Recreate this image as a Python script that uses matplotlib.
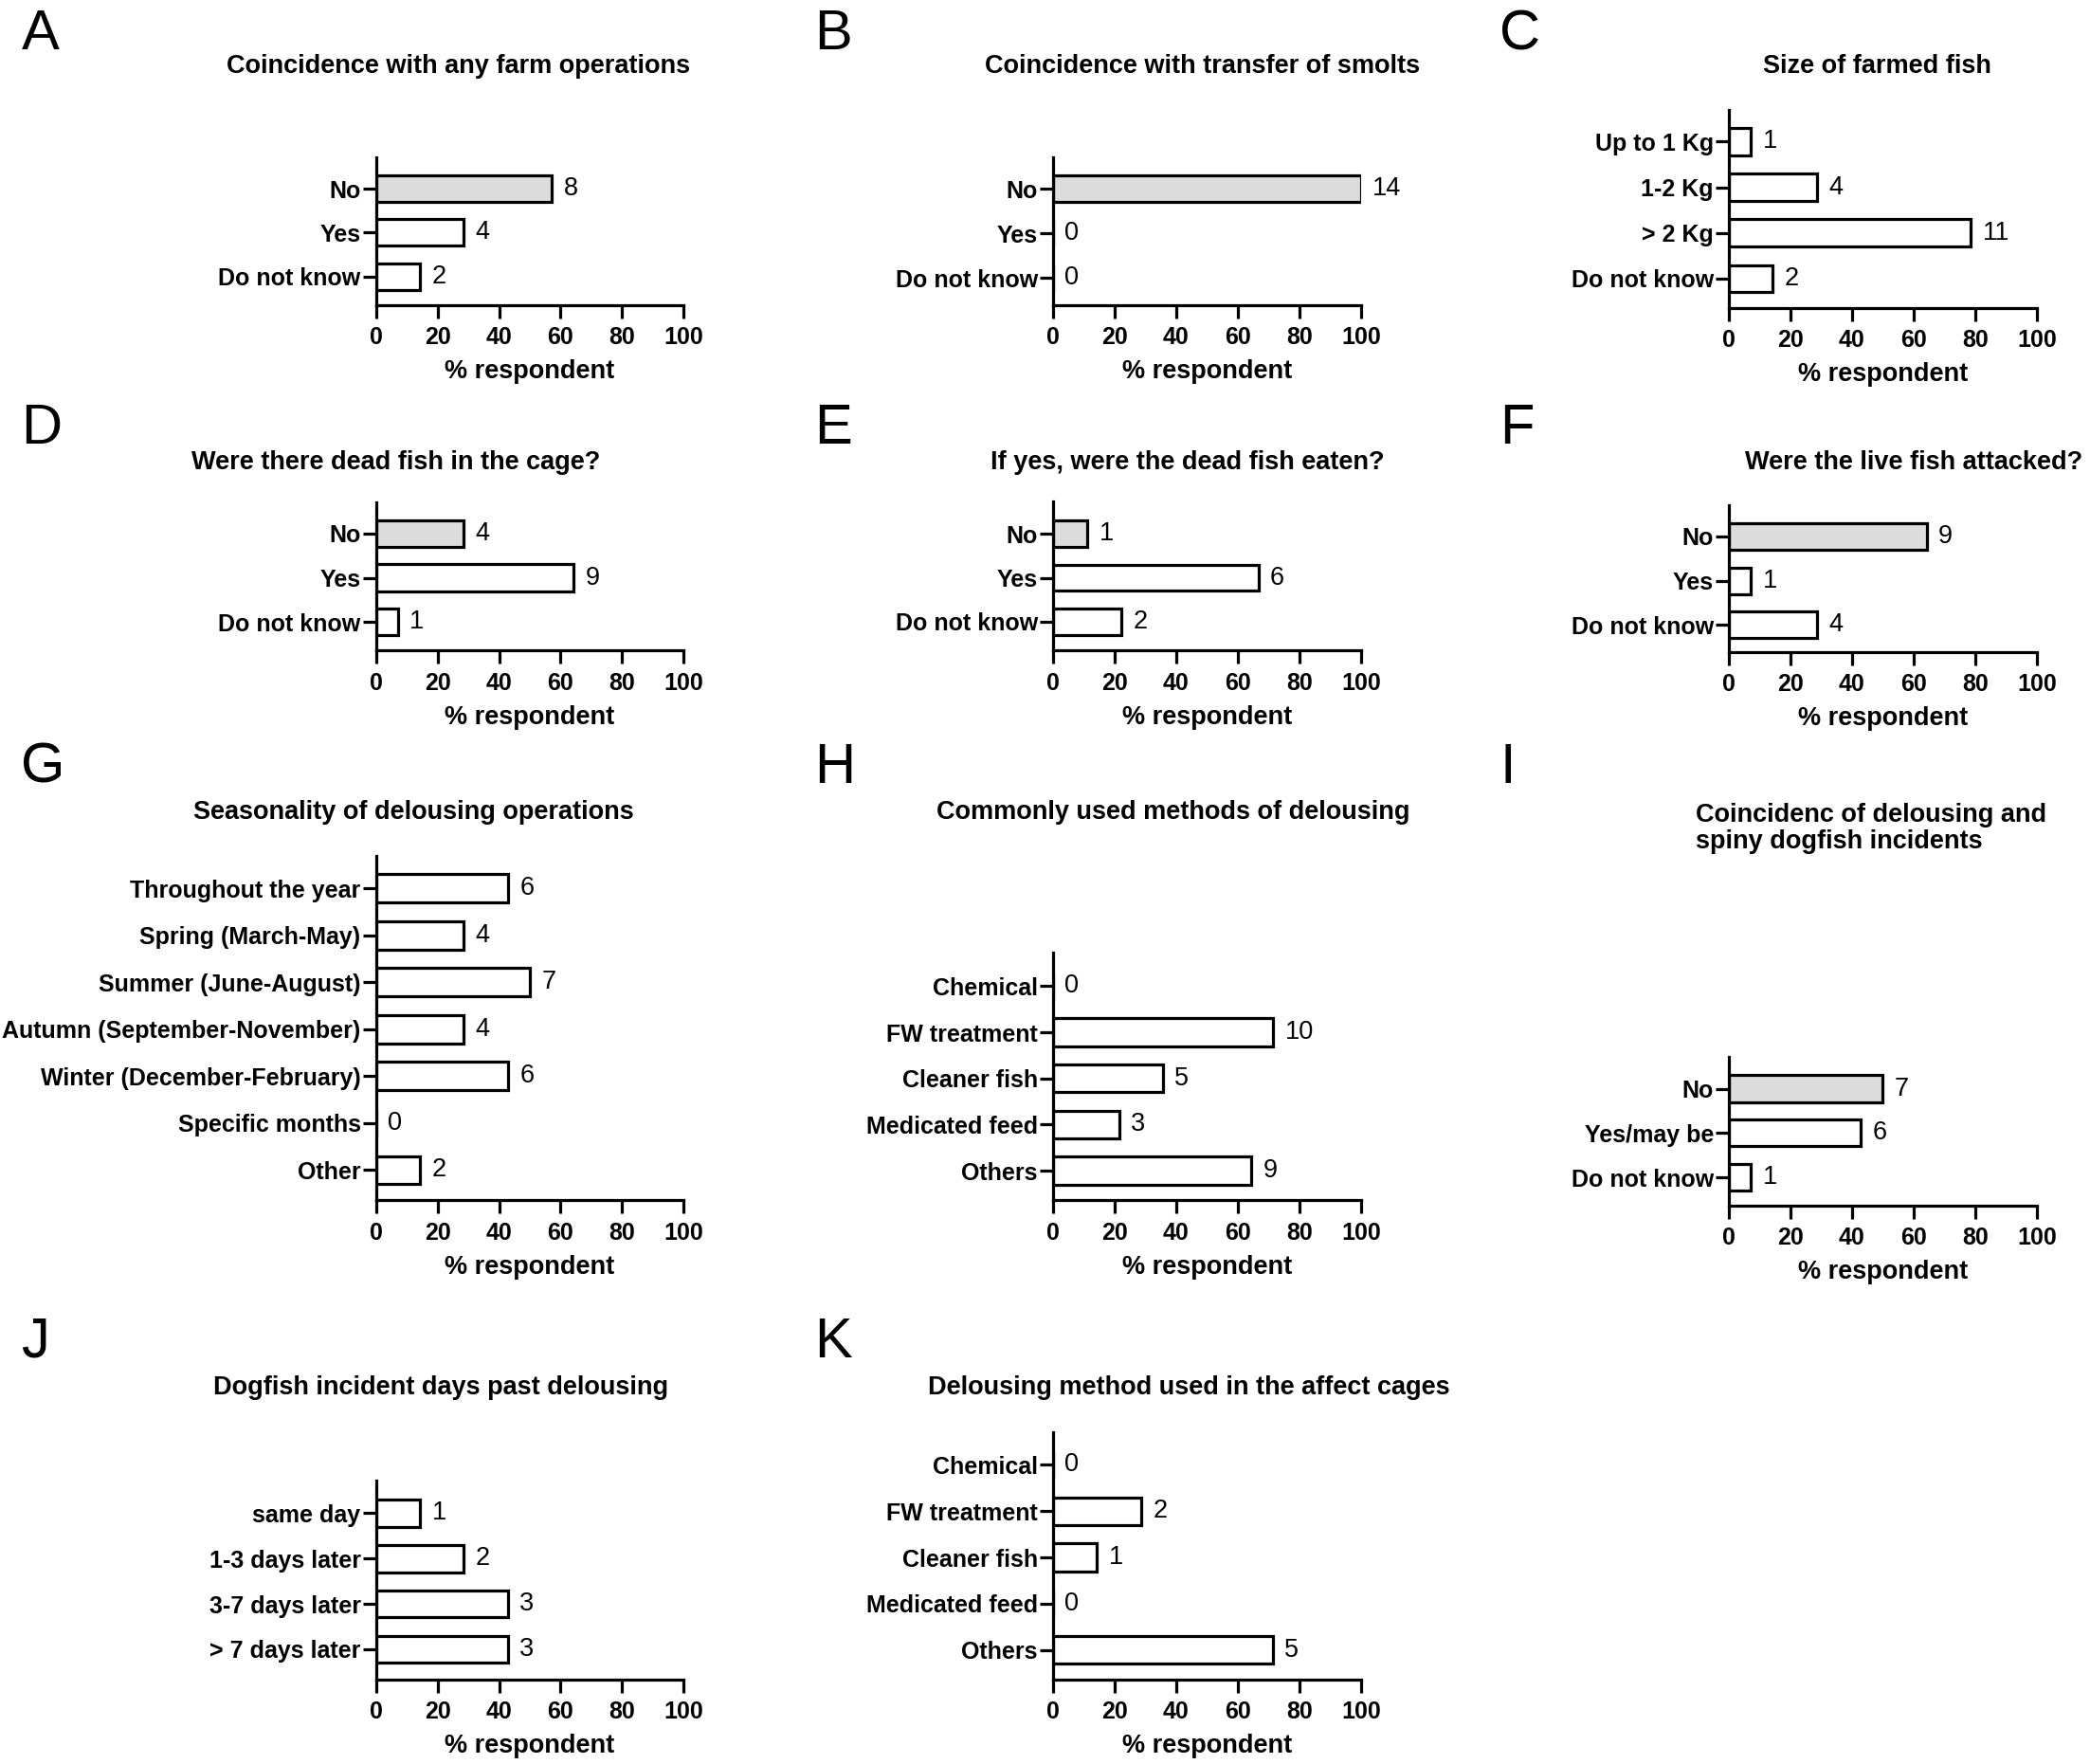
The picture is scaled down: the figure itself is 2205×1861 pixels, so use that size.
import matplotlib
matplotlib.use('Agg')
import matplotlib.pyplot as plt
import numpy as np

# Dados de cada painel (contagens de respostas e total de respondentes)
labels_a = ['No', 'Yes', 'Do not know']
counts_a = [8, 4, 2]
n_a = 14

labels_b = ['No', 'Yes', 'Do not know']
counts_b = [14, 0, 0]
n_b = 14

labels_c = ['Up to 1 Kg', '1-2 Kg', '> 2 Kg', 'Do not know']
counts_c = [1, 4, 11, 2]
n_c = 14

labels_d = ['No', 'Yes', 'Do not know']
counts_d = [4, 9, 1]
n_d = 14

labels_e = ['No', 'Yes', 'Do not know']
counts_e = [1, 6, 2]
n_e = 9

labels_f = ['No', 'Yes', 'Do not know']
counts_f = [9, 1, 4]
n_f = 14

labels_g = ['Throughout the year', 'Spring (March-May)', 'Summer (June-August)',
            'Autumn (September-November)', 'Winter (December-February)',
            'Specific months', 'Other']
counts_g = [6, 4, 7, 4, 6, 0, 2]
n_g = 14

labels_h = ['Chemical', 'FW treatment', 'Cleaner fish', 'Medicated feed', 'Others']
counts_h = [0, 10, 5, 3, 9]
n_h = 14

labels_i = ['No', 'Yes/may be', 'Do not know']
counts_i = [7, 6, 1]
n_i = 14

labels_j = ['same day', '1-3 days later', '3-7 days later', '> 7 days later']
counts_j = [1, 2, 3, 3]
n_j = 7

labels_k = ['Chemical', 'FW treatment', 'Cleaner fish', 'Medicated feed', 'Others']
counts_k = [0, 2, 1, 0, 5]
n_k = 7

titles = {
    'A': 'Coincidence with any farm operations',
    'B': 'Coincidence with transfer of smolts',
    'C': 'Size of farmed fish',
    'D': 'Were there dead fish in the cage?',
    'E': 'If yes, were the dead fish eaten?',
    'F': 'Were the live fish attacked?',
    'G': 'Seasonality of delousing operations',
    'H': 'Commonly used methods of delousing',
    'I': 'Coincidenc of delousing and\nspiny dogfish incidents',
    'J': 'Dogfish incident days past delousing',
    'K': 'Delousing method used in the affect cages',
}

# Layout em pixels da imagem de referencia (1568 x 1323)
W, H = 1568.0, 1323.0
AX_W = 231
# letra: x0, ytop, ybot, centro da 1a barra, centro da ultima, titulo (x, y), letra (x, y)
layout = {
    'A': (282, 118, 229, 141.5, 207.4, (344, 50), (16, 37)),
    'B': (790, 118, 229, 141.5, 208.6, (902, 50), (611, 37)),
    'C': (1297, 82.5, 230.7, 106.2, 209, (1408, 50), (1125, 37)),
    'D': (282, 377, 488, 400, 466.6, (297, 347), (16, 333)),
    'E': (790, 376.4, 488, 400.4, 466.3, (891, 347), (611, 333)),
    'F': (1297, 379, 489, 402.3, 468.7, (1436, 347), (1125, 333)),
    'G': (282, 641.8, 900.3, 666.2, 877.6, (310, 609), (16, 587)),
    'H': (790, 714.8, 900.3, 739.6, 878, (880, 609), (611, 587)),
    'I': (1297, 793, 904, 816.5, 883, (1272, 621), (1125, 587)),
    'J': (282, 1110.6, 1259.5, 1134.8, 1236.9, (331, 1041), (16, 1018)),
    'K': (790, 1074.3, 1259.5, 1098.7, 1237.4, (892, 1041), (611, 1018)),
}

data = {
    'A': (labels_a, counts_a, n_a), 'B': (labels_b, counts_b, n_b),
    'C': (labels_c, counts_c, n_c), 'D': (labels_d, counts_d, n_d),
    'E': (labels_e, counts_e, n_e), 'F': (labels_f, counts_f, n_f),
    'G': (labels_g, counts_g, n_g), 'H': (labels_h, counts_h, n_h),
    'I': (labels_i, counts_i, n_i), 'J': (labels_j, counts_j, n_j),
    'K': (labels_k, counts_k, n_k),
}

plt.rcParams['font.family'] = ['Liberation Sans', 'DejaVu Sans']

fig = plt.figure(figsize=(22.05, 18.61), dpi=100)

LW = 2.3
FS = 18          # rotulos dos eixos
FS_TITLE = 19.5  # titulos
FS_VAL = 19.5    # numeros ao lado das barras

for key, (labels, counts, n) in data.items():
    x0, ytop, ybot, yfirst, ylast, tpos, lpos = layout[key]
    ax = fig.add_axes([x0 / W, 1 - ybot / H, AX_W / W, (ybot - ytop) / H])

    pos = np.arange(len(labels))
    pct = np.array(counts) / n * 100
    # barra "No" em cinza
    colors = ['#dcdcdc' if lab == 'No' else 'white' for lab in labels]
    ax.barh(pos, pct, height=0.6, color=colors, edgecolor='black', linewidth=LW)

    # valores ao lado das barras
    for p, v, c in zip(pos, pct, counts):
        ax.annotate(str(c), (v, p), xytext=(9, 0), textcoords='offset points',
                    va='center', ha='left', fontsize=FS_VAL)

    sp = (ylast - yfirst) / (len(labels) - 1)
    ax.set_ylim((ybot - yfirst) / sp, -(yfirst - ytop) / sp)
    ax.set_xlim(0, 100)
    ax.set_xticks([0, 20, 40, 60, 80, 100])
    ax.set_yticks(pos)
    ax.set_yticklabels(labels, fontsize=FS, fontweight='bold')
    for t in ax.get_xticklabels():
        t.set_fontsize(FS)
        t.set_fontweight('bold')

    ax.spines['top'].set_visible(False)
    ax.spines['right'].set_visible(False)
    ax.spines['left'].set_linewidth(LW)
    ax.spines['bottom'].set_linewidth(LW)
    ax.tick_params(axis='y', length=10, width=LW, pad=1.5)
    ax.tick_params(axis='x', length=10, width=LW, pad=6)
    ax.set_xlabel('% respondent', fontsize=FS_TITLE, fontweight='bold', labelpad=8)

    # titulo e letra do painel
    if key == 'I':
        fig.text(tpos[0] / W, 1 - tpos[1] / H, titles[key], ha='left', va='center',
                 fontsize=FS_TITLE, fontweight='bold', linespacing=1.1)
    else:
        fig.text(tpos[0] / W, 1 - tpos[1] / H, titles[key], ha='center', va='center',
                 fontsize=FS_TITLE, fontweight='bold')
    fig.text(lpos[0] / W, 1 - lpos[1] / H, key, ha='left', va='baseline', fontsize=43)

fig.savefig('out.png', dpi=100, facecolor='white')
